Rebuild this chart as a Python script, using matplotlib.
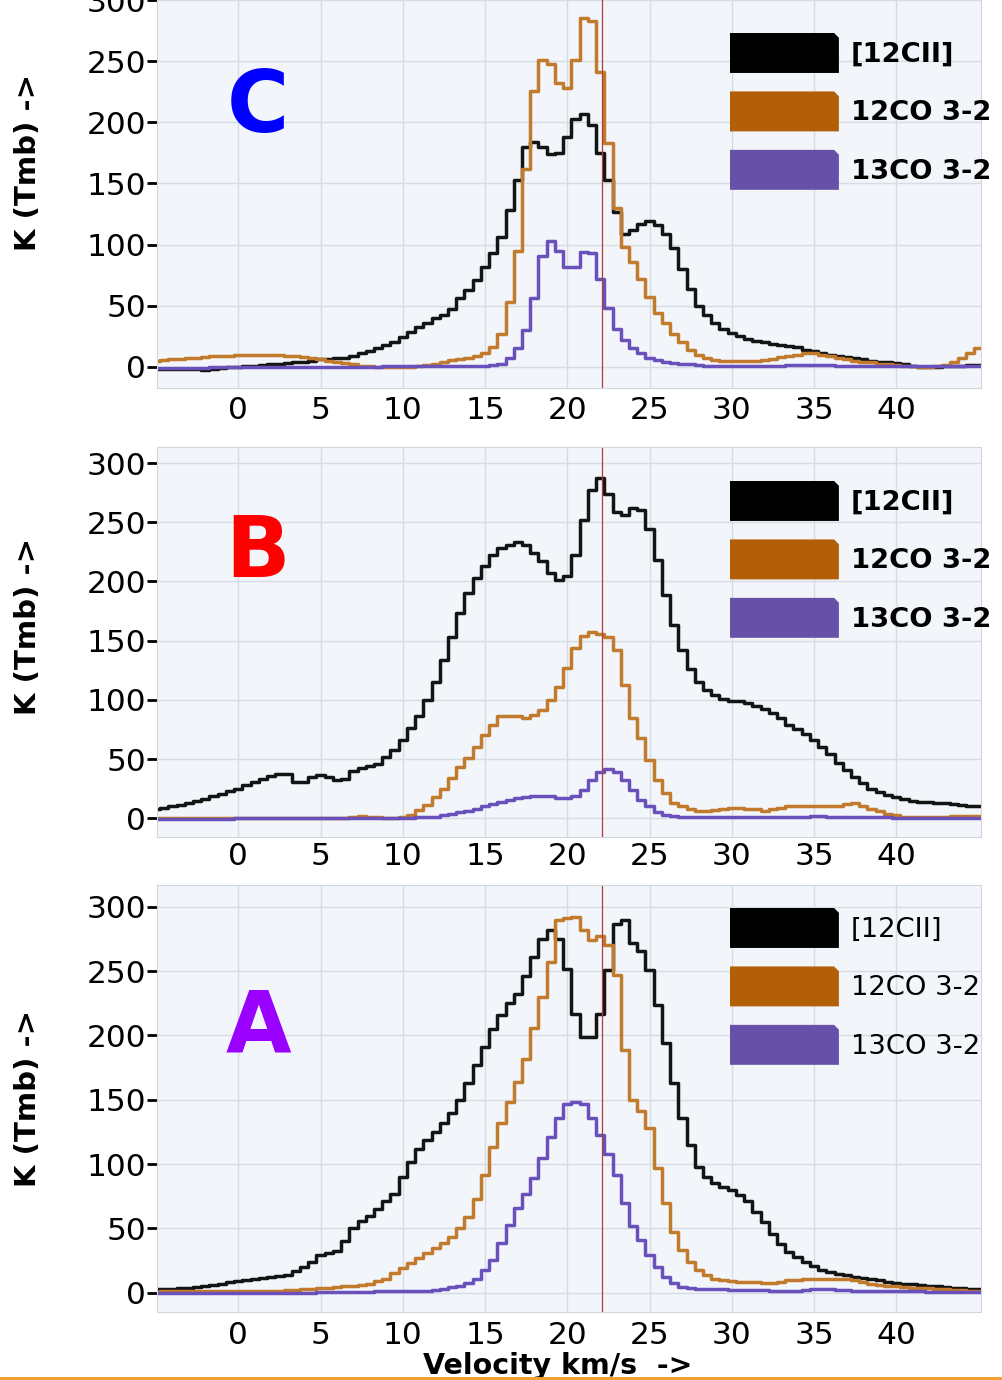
import numpy as np
import matplotlib
matplotlib.use('Agg')
import matplotlib.pyplot as plt
import matplotlib.patches as mpatches
from matplotlib.legend_handler import HandlerPatch

# channel centres, km/s
velocity = np.arange(-5, 45.01, 0.5)

# panel C spectra (K)
c_cii = [-1.5, -1.5, -1.5, -2, -2, -2, -2.5, -1.5, -1, -0.5,
         0, 0.5, 1, 1.5, 2, 2.5, 3, 3.5, 4, 5,
         6, 6.5, 7, 7.5, 9, 11, 13, 15, 17.5, 20.5,
         24.5, 28.5, 32.5, 36, 39.5, 42, 47, 56, 63, 71,
         82, 93, 106, 128, 153, 180, 184, 180, 174, 175,
         188, 203, 207, 198, 175, 153, 127, 109, 112, 117,
         119, 116, 109, 97, 80, 64, 50, 42, 36, 31,
         28, 25, 22.5, 21, 20, 19, 18, 17, 16.5, 14,
         12.5, 11, 10, 9, 8, 7, 6, 5, 4, 3.5,
         3, 2, 1, 0, 0, 0, 0.5, 1, 1, 1.5,
         1.5]
c_12co = [5, 5.5, 6, 6.5, 7, 7.5, 8, 8.5, 9, 9,
          9.5, 9.5, 10, 10, 10, 9.5, 9, 8.5, 8, 7,
          6, 5, 4, 3, 2, 1, 0.5, 0, 0, 0,
          0, 0, 0.5, 1.5, 2.5, 4, 5.5, 6.5, 7.5, 8.5,
          11.5, 16.5, 27, 53, 95, 162, 226, 251, 248, 232,
          228, 251, 285, 283, 241, 183, 130, 98, 86, 72,
          57, 44, 35.5, 27, 20.5, 13.5, 9.5, 7, 5.5, 5,
          5, 5, 5, 5, 5.5, 6.5, 8, 9, 10, 11,
          11, 10, 8.5, 7, 6, 5, 4, 3.5, 2.5, 2,
          1.5, 1, 0.5, 0, 0, 0.5, 1.5, 3.5, 7, 11,
          15]
c_13co = [-1, -1, -1, -1, -1, -1, -1, -0.5, -0.5, -0.5,
          0, 0, 0, 0, 0, 0, 0, 0, 0, 0,
          0, 0, 0, 0, 0, 0, 0, 0, 0.5, 0.5,
          0.5, 0.5, 0.5, 0.5, 1, 1, 1, 1, 1, 1,
          1, 1.5, 2.5, 7, 15, 30, 56, 91, 103, 95,
          82, 82, 94, 93, 72, 48, 31, 22, 15, 11,
          7.5, 5.5, 4, 3.3, 2.5, 2, 1.5, 1, 1, 1,
          1, 1, 1, 1, 1, 1, 1, 1.5, 1.5, 1.5,
          1.5, 1.5, 1.5, 1, 1, 1, 1, 1, 1, 1,
          1, 0.5, 0.5, 0.5, 0.5, 0.5, 0.5, 0.5, 0.5, 0.5,
          0.5]

# panel B spectra (K)
b_cii = [8, 9, 10, 11, 13, 14.5, 16.5, 18.5, 20.5, 23,
         25, 28, 31, 33, 36, 37, 37, 31, 31, 35,
         36.5, 35, 32, 33, 40, 42.5, 44, 45.5, 52, 57.5,
         66, 76, 86, 100, 115, 134, 153, 173, 190, 203,
         213, 222, 228, 231, 233, 231, 224, 217, 207, 201,
         205, 222, 252, 277, 287, 274, 259, 256, 262, 260,
         244, 218, 189, 163, 142, 126, 115, 108, 104, 101,
         99, 99, 97, 95, 92, 89, 84.5, 79, 75, 71,
         66, 60, 54, 47, 41, 35, 30, 25, 22, 20,
         18, 16.5, 15, 14, 13.5, 13, 12.5, 12, 11, 10.5,
         10]
b_12co = [0, 0, 0, 0, 0, 0, 0, 0, 0, 0,
          0, 0, 0, 0, 0, 0, 0, 0, 0, 0,
          0, 0, 0, 0.5, 1.5, 2, 1.5, 1, 0.5, 0.5,
          1, 3, 7, 11, 18, 25, 34, 43.5, 51, 60.5,
          70, 79, 86, 86, 86, 85, 87, 91.5, 100, 111,
          127, 144, 154, 157, 156, 153, 142, 113, 85, 68,
          49, 32, 21, 13, 10, 8, 6.5, 6.5, 7, 7.5,
          8.5, 8.5, 8, 7.5, 6, 7.5, 9, 10, 10, 10.5,
          10.5, 10.5, 10, 10.5, 12, 13, 10, 8, 6, 4,
          2.5, 1.5, 1, 1, 1.5, 1.5, 1.5, 2, 2, 2,
          2]
b_13co = [-0.5, -0.5, -0.5, -0.5, -0.5, -0.5, -0.5, -0.5, -0.5, -0.5,
          0, 0, 0, 0, 0, 0, 0, 0, 0, 0,
          0, 0, 0, 0, 0, 0, 0, 0, 0, 0,
          0.5, 0.5, 1, 1, 1.5, 2.5, 3.5, 5, 6.5, 8,
          10, 12, 14, 15.5, 17, 18, 18.5, 19, 18.5, 17.5,
          17, 19, 24, 32, 39, 42, 39, 32, 24, 15.5,
          10, 5.5, 3, 2, 1.5, 1.5, 1, 1, 1, 1,
          1, 1, 1, 1, 1, 1, 1, 1.5, 1.5, 1.5,
          2, 2, 1.5, 1.5, 1.5, 1, 1, 1, 1, 1,
          0.5, 0.5, 0.5, 0.5, 0.5, 0.5, 0.5, 0.5, 0.5, 0.5,
          0.5]

# panel A spectra (K)
a_cii = [2.5, 3, 3, 3.5, 4, 4.5, 5, 6, 7, 8,
         9, 10, 11, 11.5, 12.5, 13, 14, 16.5, 20, 24,
         29, 31, 32.5, 40, 50, 56, 60, 65, 71, 77,
         90, 102, 112, 119, 125, 132, 140, 150, 163, 177,
         191, 205, 216, 225, 232, 246, 261, 275, 282, 275,
         252, 217, 199, 199, 217, 251, 287, 290, 272, 266,
         251, 224, 194, 163, 136, 115, 98, 90, 85, 82,
         80, 76, 71, 63, 55, 46, 38, 32, 28, 24,
         21, 18, 16, 14.5, 13.5, 12.5, 11.5, 10.5, 9.5, 8.5,
         7.5, 7, 6.5, 6, 5.5, 5, 4.5, 4, 3.5, 3,
         2.5]
a_12co = [0.5, 1, 1, 1, 1, 1, 1, 1, 1, 1.5,
          1.5, 1.5, 1.5, 1.5, 1.5, 1.5, 2, 2, 2.5, 3,
          3.5, 4, 4.5, 5, 5.5, 6, 7, 9, 11, 15,
          19, 23, 27, 30.5, 34.5, 38.5, 43.5, 50, 59, 73,
          91.5, 113.5, 132, 148.5, 164, 182, 205.5, 230, 257, 290,
          291, 292, 282, 274, 277, 270, 247, 189, 150, 141,
          128, 97, 69.5, 47.5, 33, 24, 17.5, 13.5, 11, 10,
          9, 8.5, 8, 8, 7.5, 7.5, 8, 9.5, 10, 10.5,
          11, 11, 11, 11, 10.5, 9.5, 8, 7, 6, 5.5,
          5, 4.5, 4, 3.5, 3.5, 3, 2.5, 2, 2, 1.5,
          1.5]
a_13co = [-0.5, -0.5, -0.5, -0.5, -0.5, -0.5, -0.5, -0.5, -0.5, -0.5,
          0, 0, 0, 0, 0, 0, 0, 0, 0, 0,
          0.5, 0.5, 0.5, 0.5, 0.5, 0.5, 0.5, 1, 1, 1,
          1, 1.5, 1.5, 1.5, 2, 2.5, 4.5, 5.5, 7.5, 11,
          17.5, 25.5, 38.5, 52.5, 65.5, 77, 89, 104.5, 121, 135.5,
          146.5, 148.5, 147, 135.5, 122.5, 108, 91.5, 69.5, 51.5, 41,
          29.5, 20, 12.5, 7.5, 4.5, 3.5, 2.5, 2.5, 2.5, 2.5,
          2, 2, 2, 2, 2, 1.5, 1.5, 1.5, 1.5, 2,
          2.5, 2.5, 2.5, 2, 2, 1.5, 1.5, 1.5, 1, 1,
          1, 1, 1, 1, 0.5, 0.5, 0.5, 0.5, 0.5, 0.5,
          0.5]

line_names = ['[12CII]', '12CO 3-2', '13CO 3-2']
line_colors = ['#141414', '#c27a2c', '#6a50bb']
legend_colors = ['#000000', '#b35f08', '#6650a8']
v_ref = 22.1
x_ticks = [0, 5, 10, 15, 20, 25, 30, 35, 40]

W, H = 1003, 1380
fig = plt.figure(figsize=(W / 100, H / 100), dpi=100)


def px_rect(left, top, right, bottom):
    return [left / W, 1 - bottom / H, (right - left) / W, (bottom - top) / H]


def chamfer(legend, orig_handle, xdescent, ydescent, width, height, fontsize):
    x0, y0 = -xdescent, -ydescent
    c = 0.12 * height
    pts = [(x0, y0), (x0 + width, y0), (x0 + width, y0 + height - c),
           (x0 + width - c, y0 + height), (x0, y0 + height)]
    return mpatches.Polygon(pts, closed=True)


panels = [
    dict(letter='C', color='#0000ff', data=(c_cii, c_12co, c_13co),
         box=(157, -6, 981, 388), ylim=(-17.4, 305), pad=5.8,
         letter_base=132, legend_top=33, label_y=0.572, bold=True),
    dict(letter='B', color='#ff0000', data=(b_cii, b_12co, b_13co),
         box=(157, 447, 981, 837), ylim=(-15.8, 313.6), pad=3.6,
         letter_base=577, legend_top=481, label_y=0.539, bold=True),
    dict(letter='A', color='#9900ff', data=(a_cii, a_12co, a_13co),
         box=(157, 885, 981, 1312), ylim=(-15, 317), pad=6.2,
         letter_base=1052, legend_top=908, label_y=0.5, bold=False),
]

for p in panels:
    ax = fig.add_axes(px_rect(*p['box']))
    ax.set_facecolor('#f2f6fa')
    for vals, col in zip(p['data'], line_colors):
        ax.step(velocity, vals, where='mid', color=col, lw=2.5)
    ax.axvline(v_ref, color='#b03a3a', lw=0.9)
    ax.set_xlim(-4.94, 45.15)
    ax.set_ylim(*p['ylim'])
    ax.set_xticks(x_ticks)
    ax.set_yticks([0, 50, 100, 150, 200, 250, 300])
    ax.grid(True, color='#d6dce4', lw=1.0)
    ax.set_axisbelow(True)
    for s in ax.spines.values():
        s.set_color('#d0d6de')
        s.set_linewidth(0.8)
    ax.tick_params(axis='x', length=0, pad=p['pad'], labelsize=22.5)
    ax.tick_params(axis='y', length=7, width=2, pad=1, labelsize=22.5)
    ax.set_ylabel('K (Tmb) ->', fontsize=21, fontweight='bold')
    ax.yaxis.set_label_coords(-0.1396, p['label_y'])

    fig.text(258 / W, 1 - p['letter_base'] / H, p['letter'], color=p['color'],
             fontsize=61, fontweight='bold', ha='center', va='baseline')

    handles = [mpatches.Patch(facecolor=c, edgecolor='none') for c in legend_colors]
    ax.legend(handles, line_names, loc='upper left',
              bbox_to_anchor=(730 / W, 1 - p['legend_top'] / H),
              bbox_transform=fig.transFigure, frameon=False,
              borderpad=0, borderaxespad=0, handlelength=3.98,
              handleheight=1.87, handletextpad=0.44, labelspacing=0.675,
              prop=dict(size=19.7, weight='bold' if p['bold'] else 'normal'),
              handler_map={mpatches.Patch: HandlerPatch(patch_func=chamfer)})

ax.set_xlabel('Velocity km/s  ->', fontsize=20.5, fontweight='bold')
ax.xaxis.set_label_coords(0.486, -0.0935)

fig.add_artist(mpatches.Rectangle((0, 0), 1, 3 / H, transform=fig.transFigure,
                                  color='#f5a033', lw=0))

fig.savefig('out.png', dpi=100)
